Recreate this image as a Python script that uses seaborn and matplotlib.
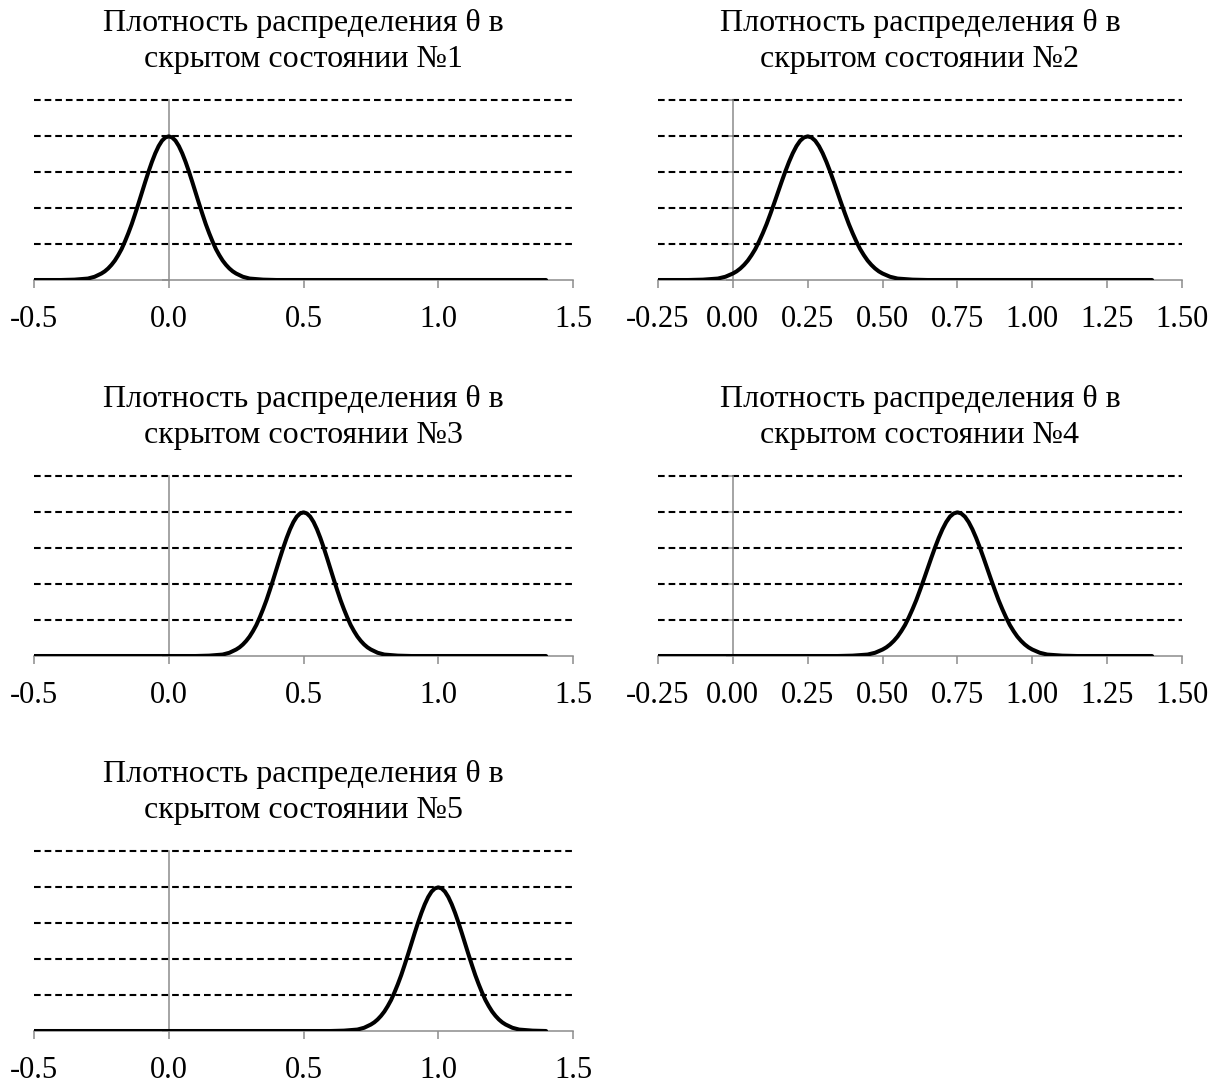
import numpy as np
import pandas as pd
import matplotlib
matplotlib.use('Agg')
import matplotlib.pyplot as plt
import seaborn as sns

# centres of the five hidden states
state_centres = [0.0, 0.25, 0.5, 0.75, 1.0]
state_names = ['№1', '№2', '№3', '№4', '№5']

# density profile around the centre (same shape in every panel)
profile_offsets = [-0.4, -0.35, -0.3, -0.275, -0.25, -0.2375, -0.225, -0.2125, -0.2, -0.1875,
                   -0.175, -0.1625, -0.15, -0.1375, -0.125, -0.1125, -0.1, -0.0875, -0.075, -0.0625,
                   -0.05, -0.0375, -0.025, -0.0125, 0.0,
                   0.0125, 0.025, 0.0375, 0.05, 0.0625, 0.075, 0.0875, 0.1, 0.1125, 0.125,
                   0.1375, 0.15, 0.1625, 0.175, 0.1875, 0.2, 0.2125, 0.225, 0.2375, 0.25,
                   0.275, 0.3, 0.35, 0.4]
profile_heights = [0.0, 0.01, 0.04, 0.09, 0.18, 0.24, 0.32, 0.42, 0.54, 0.69,
                   0.86, 1.07, 1.30, 1.55, 1.83, 2.12, 2.42, 2.72, 3.01, 3.28,
                   3.52, 3.72, 3.87, 3.96, 3.99,
                   3.96, 3.87, 3.72, 3.52, 3.28, 3.01, 2.72, 2.42, 2.12, 1.83,
                   1.55, 1.30, 1.07, 0.86, 0.69, 0.54, 0.42, 0.32, 0.24, 0.18,
                   0.09, 0.04, 0.01, 0.0]

# x axes: left column and right column
left_ticks = [-0.5, 0.0, 0.5, 1.0, 1.5]
right_ticks = [-0.25, 0.0, 0.25, 0.5, 0.75, 1.0, 1.25, 1.5]
curve_end = 1.4
grid_levels = [1, 2, 3, 4, 5]

sns.set_style('white')
plt.rcParams['font.family'] = ['Liberation Serif', 'DejaVu Serif']

GRAY = '#8c8c8c'
TICK_FS = 22
TITLE_FS = 23

fig = plt.figure(figsize=(12.2, 10.86), dpi=100)

col_left = [34 / 1220, 658 / 1220]
col_width = [539 / 1220, 524 / 1220]
row_bottom = [1 - 280 / 1086, 1 - 656 / 1086, 1 - 1031 / 1086]
row_height = 180 / 1086

for i, c in enumerate(state_centres):
    row, col = divmod(i, 2)
    ax = fig.add_axes([col_left[col], row_bottom[row], col_width[col], row_height])

    ticks = left_ticks if col == 0 else right_ticks
    x0, x1 = ticks[0], ticks[-1]

    keep = [x0 < c + o < curve_end for o in profile_offsets]
    xs = [x0] + [c + o for o, k in zip(profile_offsets, keep) if k] + [curve_end]
    ys = [0.0] + [h for h, k in zip(profile_heights, keep) if k] + [0.0]
    df = pd.DataFrame({'theta': xs, 'density': ys})

    ax.hlines(grid_levels, x0, x1, colors='black', linewidth=1.5,
              linestyles=(0, (3.2, 1.9)), zorder=1, clip_on=False)
    sns.lineplot(data=df, x='theta', y='density', ax=ax, color='black',
                 linewidth=2.9, sort=False, zorder=3)

    ax.set_xlim(x0, x1)
    ax.set_ylim(0, 5)
    ax.set_xticks(ticks)
    fmt = '{:.1f}' if col == 0 else '{:.2f}'
    ax.set_xticklabels([fmt.format(t) for t in ticks])
    ax.set_yticks(grid_levels + [0])
    ax.set_yticklabels([])
    ax.set_xlabel('')
    ax.set_ylabel('')

    for s in ['top', 'right']:
        ax.spines[s].set_visible(False)
    ax.spines['left'].set_position(('data', 0))
    ax.spines['left'].set_color(GRAY)
    ax.spines['left'].set_linewidth(1.1)
    ax.spines['left'].set_zorder(2)
    ax.spines['bottom'].set_color(GRAY)
    ax.spines['bottom'].set_linewidth(1.1)
    ax.tick_params(axis='x', direction='out', length=6, width=1.1, color=GRAY,
                   labelsize=TICK_FS, labelcolor='black', pad=12, bottom=True)
    ax.tick_params(axis='y', direction='out', length=5, width=1.1, color=GRAY, left=True)

    ax.set_title('Плотность распределения θ в\nскрытом состоянии ' + state_names[i],
                 fontsize=TITLE_FS, pad=24, linespacing=1.3, color='black')
    ax.patch.set_alpha(0)

fig.savefig('out.png', dpi=100, facecolor='white')
